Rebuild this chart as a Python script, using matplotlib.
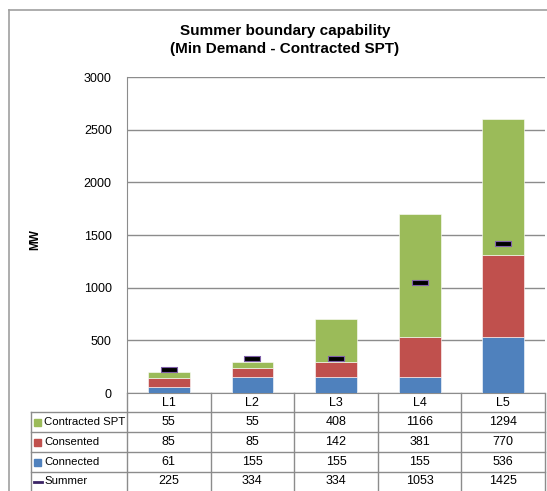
import matplotlib
matplotlib.use("Agg")
import matplotlib.pyplot as plt
from matplotlib.lines import Line2D
from matplotlib.patches import Rectangle

# Data
categories = ["L1", "L2", "L3", "L4", "L5"]
connected = [61, 155, 155, 155, 536]
consented = [85, 85, 142, 381, 770]
contracted = [55, 55, 408, 1166, 1294]
summer = [225, 334, 334, 1053, 1425]

c_blue = "#4F81BD"
c_red = "#C0504D"
c_green = "#9BBB59"
c_grid = "#8C8C8C"

plt.rcParams["font.family"] = ["Liberation Sans Narrow", "Liberation Sans", "DejaVu Sans"]

W, H = 547, 491
fig = plt.figure(figsize=(W / 100, H / 100), dpi=100)


def fx(x):
    return x / W


def fy(y):
    return 1 - y / H


# outer chart frame
fig.add_artist(Line2D([fx(9), fx(9)], [fy(10), fy(491)], color="#A0A0A0", lw=1.2,
                      transform=fig.transFigure))
fig.add_artist(Line2D([fx(9), fx(547)], [fy(10), fy(10)], color="#A0A0A0", lw=1.2,
                      transform=fig.transFigure))

left, right, top, bottom = 127, 545, 77, 393
ax = fig.add_axes([fx(left), fy(bottom), fx(right - left), (bottom - top) / H])

x = range(len(categories))
ax.bar(x, connected, width=0.5, color=c_blue, edgecolor="white", linewidth=0.4, zorder=3)
ax.bar(x, consented, width=0.5, bottom=connected, color=c_red, edgecolor="white",
       linewidth=0.4, zorder=3)
base2 = [a + b for a, b in zip(connected, consented)]
ax.bar(x, contracted, width=0.5, bottom=base2, color=c_green, edgecolor="white",
       linewidth=0.4, zorder=3)

dash = [(-4, -1.2), (4, -1.2), (4, 1.2), (-4, 1.2), (-4, -1.2)]
ax.plot(x, summer, linestyle="none", marker=dash, markersize=12,
        markerfacecolor="black", markeredgecolor="#7F5FA8", markeredgewidth=0.8, zorder=4)

ax.set_xlim(-0.5, len(categories) - 0.5)
ax.set_ylim(0, 3000)
ax.set_yticks(range(0, 3001, 500))
ax.yaxis.grid(True, color=c_grid, linewidth=1.0, zorder=0)
ax.set_xticks([])
ax.tick_params(axis="y", length=0, labelsize=9, pad=11)
for s in ["top", "right"]:
    ax.spines[s].set_visible(False)
ax.spines["left"].set_color(c_grid)
ax.spines["bottom"].set_color(c_grid)

fig.text(fx(35), fy(240), "MW", rotation=90, ha="center", va="center",
         fontsize=8.5, fontweight="bold")

# title
fig.text(fx(285), fy(40), "Summer boundary capability\n(Min Demand - Contracted SPT)",
         ha="center", va="center", fontsize=11, fontweight="bold", linespacing=1.35)

# data table
rows = [("Contracted SPT", contracted, c_green, "sq"),
        ("Consented", consented, c_red, "sq"),
        ("Connected", connected, c_blue, "sq"),
        ("Summer", summer, "#3B2466", "line")]
row_edges = [393, 412, 432, 452, 472, 491]
col_w = (right - left) / len(categories)
col_edges = [left + i * col_w for i in range(len(categories) + 1)]
tc = "#8C8C8C"


def hline(y, x0, x1):
    fig.add_artist(Line2D([fx(x0), fx(x1)], [fy(y), fy(y)], color=tc, lw=1,
                          transform=fig.transFigure))


def vline(xp, y0, y1):
    fig.add_artist(Line2D([fx(xp), fx(xp)], [fy(y0), fy(y1)], color=tc, lw=1,
                          transform=fig.transFigure))


for ye in row_edges[1:-1]:
    hline(ye, 31, right)
vline(31, 412, 491)
for xe in col_edges:
    vline(xe, 393, 491)

for i, cat in enumerate(categories):
    fig.text(fx(col_edges[i] + col_w / 2), fy((row_edges[0] + row_edges[1]) / 2), cat,
             ha="center", va="center", fontsize=9)

for r, (name, vals, col, kind) in enumerate(rows):
    yc = (row_edges[r + 1] + row_edges[r + 2]) / 2
    if kind == "sq":
        fig.add_artist(Rectangle((fx(34), fy(yc + 3.5)), 7 / W, 7 / H, color=col,
                                 transform=fig.transFigure))
    else:
        fig.add_artist(Line2D([fx(34), fx(42)], [fy(yc), fy(yc)], color=col, lw=2,
                              transform=fig.transFigure))
    fig.text(fx(44), fy(yc), name, ha="left", va="center", fontsize=8.2)
    for i, v in enumerate(vals):
        fig.text(fx(col_edges[i] + col_w / 2), fy(yc), str(v), ha="center", va="center",
                 fontsize=9)

fig.savefig("out.png", dpi=100)
